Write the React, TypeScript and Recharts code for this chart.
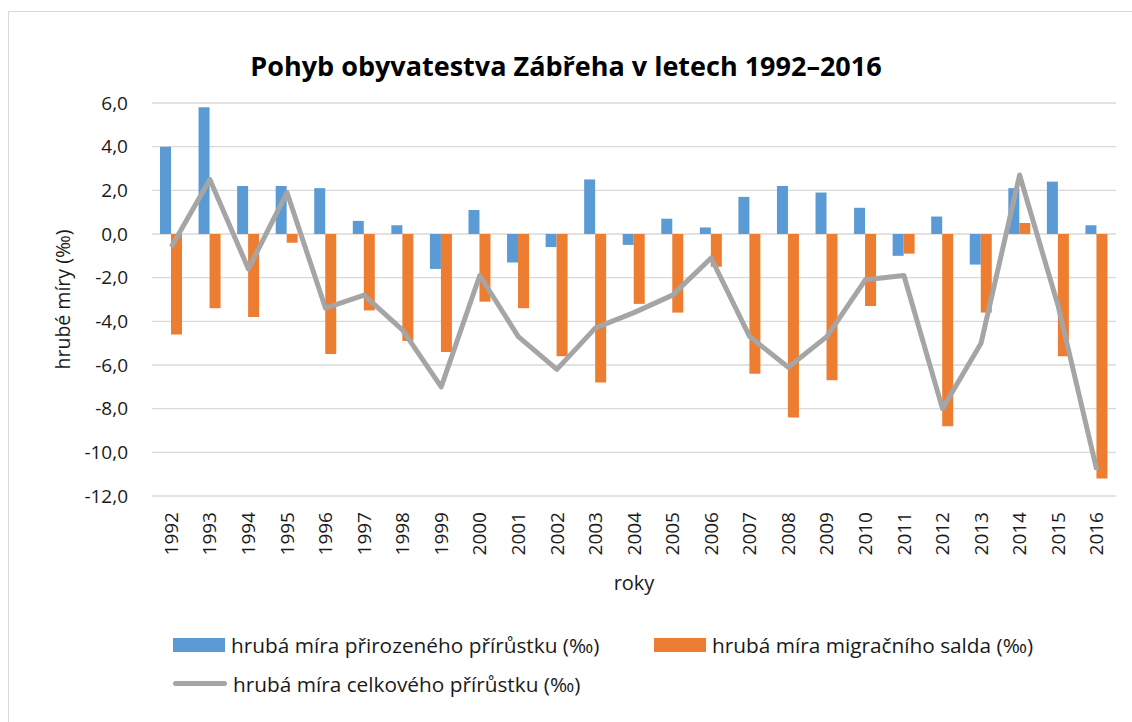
import React from 'react';
import { ComposedChart, Bar, Line, XAxis, YAxis, CartesianGrid } from 'recharts';

const years = [
  '1992', '1993', '1994', '1995', '1996', '1997', '1998', '1999', '2000', '2001', '2002', '2003', '2004',
  '2005', '2006', '2007', '2008', '2009', '2010', '2011', '2012', '2013', '2014', '2015', '2016',
];
const natural = [4.0, 5.8, 2.2, 2.2, 2.1, 0.6, 0.4, -1.6, 1.1, -1.3, -0.6, 2.5, -0.5, 0.7, 0.3, 1.7, 2.2, 1.9, 1.2, -1.0, 0.8, -1.4, 2.1, 2.4, 0.4];
const migration = [-4.6, -3.4, -3.8, -0.4, -5.5, -3.5, -4.9, -5.4, -3.1, -3.4, -5.6, -6.8, -3.2, -3.6, -1.5, -6.4, -8.4, -6.7, -3.3, -0.9, -8.8, -3.6, 0.5, -5.6, -11.2];
const total = [-0.6, 2.5, -1.6, 1.9, -3.4, -2.8, -4.4, -7.0, -1.9, -4.7, -6.2, -4.3, -3.6, -2.8, -1.1, -4.7, -6.1, -4.7, -2.1, -1.9, -8.0, -5.0, 2.7, -3.3, -10.8];
const yTicks = [-12, -10, -8, -6, -4, -2, 0, 2, 4, 6];

const seriesNames = {
  natural: 'hrubá míra přirozeného přírůstku (‰)',
  migration: 'hrubá míra migračního salda (‰)',
  total: 'hrubá míra celkového přírůstku (‰)',
};

const data = years.map((year, i) => ({
  year,
  natural: natural[i],
  migration: migration[i],
  total: total[i],
}));

const FONT = '"Open Sans", sans-serif';
const TEXT = '#1a1a1a';

const YearTick = ({ x, y, payload }: any) => (
  <g transform={`translate(${x},${y})`}>
    <text transform="rotate(-90)" textAnchor="end" dy="0.35em" fontSize={19} fontFamily={FONT} fill={TEXT}>
      {payload.value}
    </text>
  </g>
);

const legendItems = [
  { key: 'natural', color: '#5b9bd5', type: 'rect' },
  { key: 'migration', color: '#ed7d31', type: 'rect' },
  { key: 'total', color: '#a5a5a5', type: 'line' },
];

const LegendBox = () => (
  <div
    style={{
      position: 'absolute', left: 173, top: 633, width: 962,
      display: 'flex', flexWrap: 'wrap', rowGap: 16,
    }}
  >
    {legendItems.map((it) => (
      <div key={it.key} style={{ width: 481, display: 'flex', alignItems: 'center', height: 23 }}>
        {it.type === 'rect' ? (
          <span style={{ display: 'inline-block', width: 52, height: 14, background: it.color }} />
        ) : (
          <span style={{ display: 'inline-block', width: 54, height: 5, borderRadius: 3, background: it.color }} />
        )}
        <span style={{ marginLeft: 6, fontSize: 20.8, fontFamily: FONT, color: TEXT, whiteSpace: 'nowrap' }}>
          {seriesNames[it.key as keyof typeof seriesNames]}
        </span>
      </div>
    ))}
  </div>
);

const App = () => (
  <div style={{ position: 'absolute', left: 0, top: 0, width: 1132, height: 722, overflow: 'hidden', background: '#fff' }}>
    <div
      style={{
        position: 'absolute', left: 8, top: 11, width: 1200, height: 800,
        borderLeft: '1px solid #d9d9d9', borderTop: '1px solid #d9d9d9',
      }}
    />
    <div
      style={{
        position: 'absolute', left: 0, top: 47, width: 1132, textAlign: 'center',
        fontFamily: FONT, fontWeight: 700, fontSize: 27, color: '#000',
      }}
    >
      Pohyb obyvatestva Zábřeha v letech 1992–2016
    </div>
    <ComposedChart
      width={1132}
      height={722}
      data={data}
      margin={{ top: 103, right: 16, bottom: 0, left: 0 }}
      barGap={0}
      style={{ position: 'absolute', left: 0, top: 0 }}
    >
      <CartesianGrid vertical={false} stroke="#d9d9d9" strokeWidth={1.3} />
      <XAxis
        dataKey="year"
        axisLine={false}
        tickLine={false}
        tickSize={0}
        tickMargin={16}
        height={226}
        interval={0}
        tick={<YearTick />}
        label={({ viewBox }: any) => (
          <text
            x={viewBox.x + viewBox.width / 2}
            y={viewBox.y + 94}
            textAnchor="middle"
            fontSize={20}
            fontFamily={FONT}
            fill={TEXT}
          >
            roky
          </text>
        )}
      />
      <YAxis
        width={152}
        domain={[-12, 6]}
        ticks={yTicks}
        axisLine={false}
        tickLine={false}
        tickSize={0}
        tickMargin={24}
        tickFormatter={(v: number) => v.toFixed(1).replace('.', ',')}
        tick={{ fontSize: 19, fontFamily: FONT, fill: TEXT }}
        label={({ viewBox }: any) => {
          const cx = viewBox.x + 62;
          const cy = viewBox.y + viewBox.height / 2;
          return (
            <text
              x={cx}
              y={cy}
              transform={`rotate(-90, ${cx}, ${cy})`}
              textAnchor="middle"
              dominantBaseline="central"
              fontSize={19.5}
              fontFamily={FONT}
              fill={TEXT}
            >
              hrubé míry (‰)
            </text>
          );
        }}
      />
      <Bar dataKey="natural" name={seriesNames.natural} fill="#5b9bd5" barSize={11} isAnimationActive={false} />
      <Bar dataKey="migration" name={seriesNames.migration} fill="#ed7d31" barSize={11} isAnimationActive={false} />
      <Line
        dataKey="total"
        name={seriesNames.total}
        type="linear"
        stroke="#a5a5a5"
        strokeWidth={5}
        strokeLinejoin="round"
        dot={false}
        isAnimationActive={false}
      />
    </ComposedChart>
    <LegendBox />
  </div>
);

export default App;
